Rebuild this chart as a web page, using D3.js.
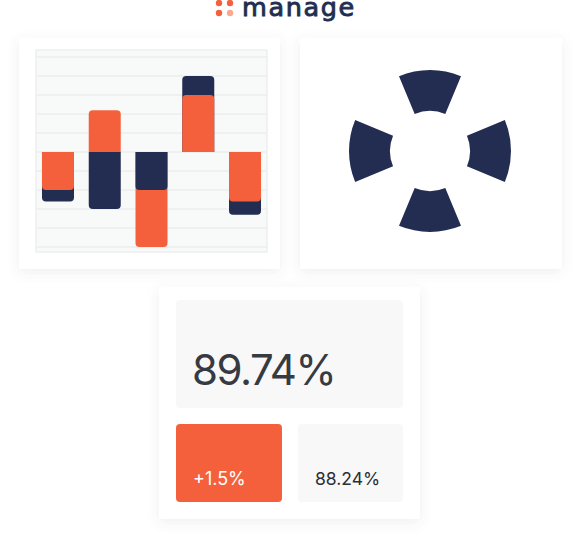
<!DOCTYPE html>
<html><head><meta charset="utf-8">
<script src="https://cdn.jsdelivr.net/npm/d3@7"></script>
<style>
html,body{margin:0;padding:0;background:#fff;}
svg{display:block;}
</style></head>
<body>
<svg id="c" width="580" height="549"></svg>
<script>
// ---- data ----
const categories = ["1", "2", "3", "4", "5"];
const navyValues = [-2.6, -3, -2, 4, -3.3];
const orangeValues = [-2, 2.2, -5, 3, -2.6];
const gridTicks = [-5, -4, -3, -2, -1, 0, 1, 2, 3, 4, 5];
const ringSegments = [1, 1, 1, 1, 1, 1, 1, 1];
const ringVisible = [true, false, true, false, true, false, true, false];
const kpiMain = "89.74%";
const kpiDelta = "+1.5%";
const kpiPrev = "88.24%";
const logoText = "manage";

const NAVY = "#232d52", ORANGE = "#f5603c";
const svg = d3.select("#c");
const defs = svg.append("defs");
const f = defs.append("filter").attr("id","sh").attr("x","-20%").attr("y","-20%").attr("width","140%").attr("height","140%");
f.append("feDropShadow").attr("dx",0).attr("dy",3).attr("stdDeviation",6).attr("flood-color","#5a6270").attr("flood-opacity",0.10);

// ---- logo ----
const logo = svg.append("g");
[[219,3,ORANGE],[230,3,ORANGE],[219,13,ORANGE],[230,13,"#f8a98f"]].forEach(d=>{
  logo.append("circle").attr("cx",d[0]).attr("cy",d[1]).attr("r",3.2).attr("fill",d[2]);
});
logo.append("text").attr("x",242).attr("y",16).text(logoText)
  .attr("font-family","'DejaVu Sans', sans-serif").attr("font-weight",400)
  .attr("font-size",25.5).attr("fill",NAVY).attr("stroke",NAVY).attr("stroke-width",0.9)
  .attr("letter-spacing","1.6");

// ---- cards ----
const cards = [[19,38,261,231],[300,38,262,231],[159,287,261,232]];
svg.append("g").selectAll("rect").data(cards).join("rect")
  .attr("x",d=>d[0]).attr("y",d=>d[1]).attr("width",d=>d[2]).attr("height",d=>d[3])
  .attr("fill","#fff").attr("filter","url(#sh)");

// ---- bar chart ----
const frame = {x0:36, x1:267, y0:50, y1:252};
const g1 = svg.append("g");
g1.append("rect").attr("x",frame.x0).attr("y",frame.y0).attr("width",frame.x1-frame.x0).attr("height",frame.y1-frame.y0)
  .attr("fill","#f8f9f9").attr("stroke","#e6e9e9").attr("stroke-width",1);
const x = d3.scaleBand().domain(categories).range([frame.x0, frame.x1]).paddingInner(0.3155).paddingOuter(0.128);
const y = d3.scaleLinear().domain([-5, 5]).range([247, 57]);
g1.selectAll("line.grid").data(gridTicks).join("line").attr("class","grid")
  .attr("x1",frame.x0+0.5).attr("x2",frame.x1-0.5).attr("y1",d=>y(d)).attr("y2",d=>y(d))
  .attr("stroke","#eceeee").attr("stroke-width",1.6);

function barPath(x0, w, v){
  const r = 4, y0 = y(0), y1 = y(v);
  const p = d3.path();
  if (v >= 0){
    p.moveTo(x0, y0); p.lineTo(x0, y1 + r); p.arcTo(x0, y1, x0 + r, y1, r);
    p.lineTo(x0 + w - r, y1); p.arcTo(x0 + w, y1, x0 + w, y1 + r, r); p.lineTo(x0 + w, y0);
  } else {
    p.moveTo(x0, y0); p.lineTo(x0, y1 - r); p.arcTo(x0, y1, x0 + r, y1, r);
    p.lineTo(x0 + w - r, y1); p.arcTo(x0 + w, y1, x0 + w, y1 - r, r); p.lineTo(x0 + w, y0);
  }
  p.closePath();
  return p.toString();
}
const barData = [];
categories.forEach((c,i)=>{
  const pair = [{c, v:navyValues[i], color:NAVY},{c, v:orangeValues[i], color:ORANGE}];
  pair.sort((a,b)=>Math.abs(b.v)-Math.abs(a.v));
  barData.push(...pair);
});
g1.selectAll("path.bar").data(barData).join("path").attr("class","bar")
  .attr("d",d=>barPath(x(d.c), x.bandwidth(), d.v)).attr("fill",d=>d.color);

// ---- ring ----
const g2 = svg.append("g").attr("transform","translate(430,151)");
const pie = d3.pie().sort(null).startAngle(-Math.PI/8).endAngle(2*Math.PI - Math.PI/8);
const arc = d3.arc().innerRadius(40).outerRadius(81);
g2.selectAll("path").data(pie(ringSegments)).join("path")
  .attr("d",arc).attr("fill",(d,i)=>ringVisible[i]?NAVY:"none");

// ---- KPI ----
const g3 = svg.append("g");
g3.append("rect").attr("x",176).attr("y",300).attr("width",227).attr("height",108).attr("rx",4).attr("fill","#f8f8f8");
g3.append("rect").attr("x",176).attr("y",424).attr("width",106).attr("height",78).attr("rx",4).attr("fill",ORANGE);
g3.append("rect").attr("x",298).attr("y",424).attr("width",105).attr("height",78).attr("rx",4).attr("fill","#f8f8f8");
g3.append("text").attr("x",192).attr("y",385).text(kpiMain)
  .attr("font-family","Inter, sans-serif").attr("font-size",42).attr("fill","#363a42").attr("letter-spacing","-1.5");
g3.append("text").attr("x",193).attr("y",485).text(kpiDelta)
  .attr("font-family","Inter, sans-serif").attr("font-size",18).attr("fill","#fff");
g3.append("text").attr("x",315).attr("y",485).text(kpiPrev)
  .attr("font-family","Inter, sans-serif").attr("font-size",17.5).attr("fill","#2a2f38");
</script>
</body></html>
